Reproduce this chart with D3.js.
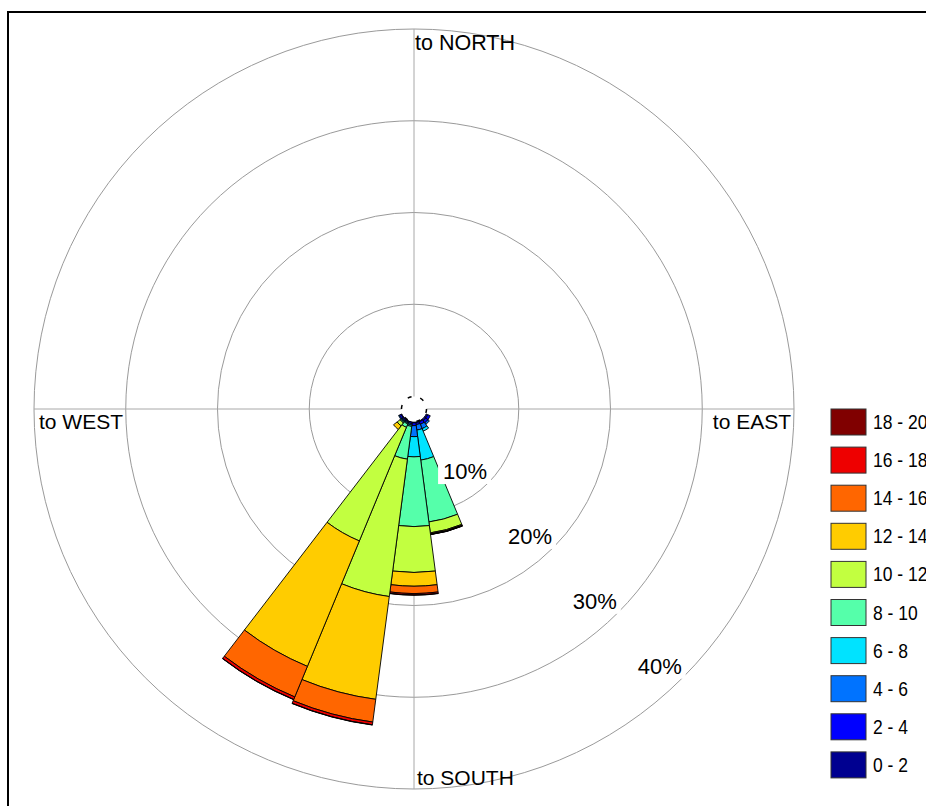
<!DOCTYPE html>
<html>
<head>
<meta charset="utf-8">
<title>Wind Rose</title>
<script src="https://d3js.org/d3.v7.min.js"></script>
<style>
  body { margin: 0; background: #fff; }
  svg text { font-family: "Liberation Sans", Arial, sans-serif; fill: #000; }
  .grid { fill: none; stroke: #9a9a9a; stroke-width: 1; }
  .axis { stroke: #a8a8a8; stroke-width: 1; }
</style>
</head>
<body>
<script>
// ---- data (percent of time blowing TO each direction, per speed class) ----
var directions = [0, 15, 30, 45, 60, 75, 90, 105, 120, 135, 150, 165,
                  180, 195, 210, 225, 240, 255, 270, 285, 300, 315, 330, 345];
var speedBins = ["0 - 2", "2 - 4", "4 - 6", "6 - 8", "8 - 10",
                 "10 - 12", "12 - 14", "14 - 16", "16 - 18", "18 - 20"];
var binColors = ["#000090", "#0000ff", "#0073ff", "#00e3ff", "#55ffaa",
                 "#c2ff40", "#ffcc00", "#ff6600", "#ee0000", "#800000"];

var s0_2   = [0,0,0,0,0,0,0,0, 0.2, 0.2, 0.1, 0.1,  0.1,  0.05, 0.05, 0.1, 0.1, 0,0,0,0,0,0,0];
var s2_4   = [0,0,0,0,0,0,0,0, 0.3, 0.3, 0.3, 0.2,  0.3,  0.15, 0.1,  0.1, 0.2, 0,0,0,0,0,0,0];
var s4_6   = [0,0,0,0,0,0,0,0, 0,   0.2, 0.5, 0.6,  1.2,  0.15, 0.1,  0.1, 0.1, 0,0,0,0,0,0,0];
var s6_8   = [0,0,0,0,0,0,0,0, 0,   0,   0.3, 3.3,  2.2,  0.15, 0.1,  0.1, 0,   0,0,0,0,0,0,0];
var s8_10  = [0,0,0,0,0,0,0,0, 0,   0,   0,   6.8,  7.6,  3.6,  0.4,  0.1, 0,   0,0,0,0,0,0,0];
var s10_12 = [0,0,0,0,0,0,0,0, 0,   0,   0,   1.2,  5.0,  15.1, 13.4, 0.4, 0,   0,0,0,0,0,0,0];
var s12_14 = [0,0,0,0,0,0,0,0, 0,   0,   0,   0.1,  1.5,  11.3, 14.8, 0.5, 0,   0,0,0,0,0,0,0];
var s14_16 = [0,0,0,0,0,0,0,0, 0,   0,   0,   0.05, 0.8,  2.5,  3.6,  0,   0,   0,0,0,0,0,0,0];
var s16_18 = [0,0,0,0,0,0,0,0, 0,   0,   0,   0.03, 0.15, 0.3,  0.3,  0,   0,   0,0,0,0,0,0,0];
var s18_20 = [0,0,0,0,0,0,0,0, 0,   0,   0,   0.02, 0.03, 0.03, 0.03, 0,   0,   0,0,0,0,0,0,0];
var series = [s0_2, s2_4, s4_6, s6_8, s8_10, s10_12, s12_14, s14_16, s16_18, s18_20];

var ringTicks = [10, 20, 30, 40];
var compass = ["to NORTH", "to EAST", "to SOUTH", "to WEST"];

// ---- layout ----
var W = 926, H = 806;
var cx = 414, cy = 409;
var calmR = 13, maxR = 380;
var sector = 15;

var svg = d3.select("body").append("svg")
  .attr("width", W).attr("height", H);

// frame
svg.append("rect")
  .attr("x", 8).attr("y", 12).attr("width", W + 20).attr("height", H + 20)
  .attr("fill", "none").attr("stroke", "#000").attr("stroke-width", 2);

var rScale = d3.scaleLinear().domain([0, 40]).range([calmR, maxR]);
var g = svg.append("g").attr("transform", "translate(" + cx + "," + cy + ")");

// grid rings
g.selectAll("circle.grid").data(ringTicks).enter().append("circle")
  .attr("class", "grid")
  .attr("r", function (d) { return rScale(d); });

// cross lines
var R = rScale(40);
g.append("line").attr("class", "axis")
  .attr("x1", 0).attr("x2", 0).attr("y1", -R).attr("y2", R);
g.append("line").attr("class", "axis")
  .attr("x1", -R).attr("x2", R).attr("y1", 0).attr("y2", 0);

// stacked wedges
var segs = [];
directions.forEach(function (dir, i) {
  var cum = 0;
  series.forEach(function (s, b) {
    var v = s[i];
    if (v > 0) {
      segs.push({ dir: dir, bin: b, from: cum, to: cum + v });
    }
    cum += v;
  });
});

var arc = d3.arc()
  .innerRadius(function (d) { return rScale(d.from); })
  .outerRadius(function (d) { return rScale(d.to); })
  .startAngle(function (d) { return (d.dir - sector / 2) * Math.PI / 180; })
  .endAngle(function (d) { return (d.dir + sector / 2) * Math.PI / 180; });

g.selectAll("path.seg").data(segs).enter().append("path")
  .attr("class", "seg")
  .attr("d", arc)
  .attr("fill", function (d) { return binColors[d.bin]; })
  .attr("stroke", "#000")
  .attr("stroke-width", 0.9)
  .attr("stroke-linejoin", "round");

// calm circle
g.append("circle").attr("r", calmR - 0.5)
  .attr("fill", "#fff").attr("stroke", "#000")
  .attr("stroke-width", 1.5).attr("stroke-dasharray", "4,9");

// ring labels along the SE diagonal with white boxes
var rl = g.selectAll("g.rlab").data(ringTicks).enter().append("g")
  .attr("class", "rlab")
  .attr("transform", function (d) {
    var k = rScale(d) * Math.SQRT1_2;
    return "translate(" + (k - 23) + "," + (k - 12) + ")";
  });
rl.append("rect").attr("x", -27).attr("y", -12).attr("width", 53).attr("height", 25)
  .attr("fill", "#fff");
rl.append("text").attr("text-anchor", "middle").attr("y", 8)
  .style("font-size", "22px")
  .text(function (d) { return d + "%"; });

// compass labels
var cfont = "21px";
g.append("text").style("font-size", "21.5px").attr("x", 1).attr("y", 50 - cy).text(compass[0]);
g.append("text").style("font-size", cfont).attr("x", R - 3).attr("y", 20)
  .attr("text-anchor", "end").text(compass[1]);
g.append("text").style("font-size", cfont).attr("x", 3).attr("y", 785 - cy).text(compass[2]);
g.append("text").style("font-size", cfont).attr("x", -R + 5).attr("y", 20).text(compass[3]);

// legend
var legend = svg.append("g").attr("transform", "translate(831,409)");
var items = speedBins.map(function (b, i) { return { label: b, color: binColors[i] }; }).reverse();
var li = legend.selectAll("g").data(items).enter().append("g")
  .attr("transform", function (d, i) { return "translate(0," + (i * 38.1) + ")"; });
li.append("rect").attr("width", 35).attr("height", 26)
  .attr("fill", function (d) { return d.color; })
  .attr("stroke", "#333").attr("stroke-width", 1);
li.append("text")
  .attr("transform", "translate(42,20) scale(1,1.15)")
  .style("font-size", "17.5px")
  .text(function (d) { return d.label; });
</script>
</body>
</html>
